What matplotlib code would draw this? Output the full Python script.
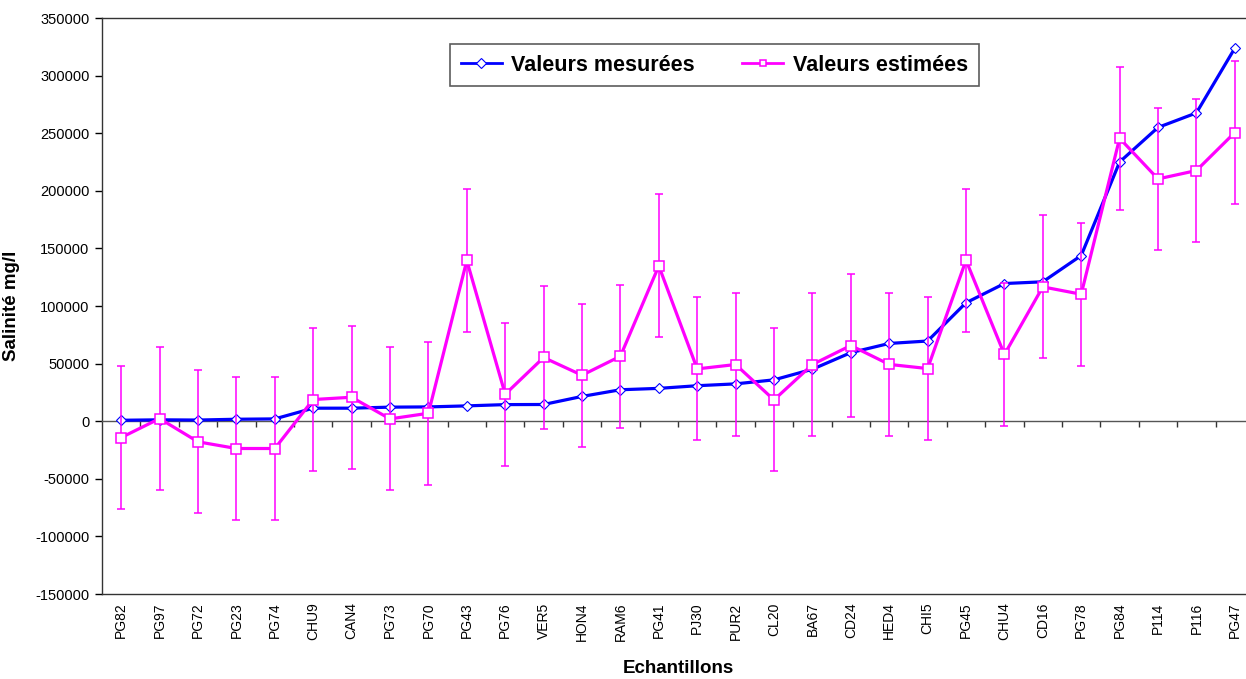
import numpy as np
import matplotlib
matplotlib.use("Agg")
import matplotlib.pyplot as plt

plt.rcParams['font.family'] = ['Liberation Sans', 'DejaVu Sans']
plt.rcParams['axes.unicode_minus'] = False

echantillons = ["PG82", "PG97", "PG72", "PG23", "PG74", "CHU9", "CAN4", "PG73", "PG70", "PG43",
                "PG76", "VER5", "HON4", "RAM6", "PG41", "PJ30", "PUR2", "CL20", "BA67", "CD24",
                "HED4", "CHI5", "PG45", "CHU4", "CD16", "PG78", "PG84", "P114", "P116", "PG47"]

mesurees = [800, 1200, 1000, 1700, 2000, 11300, 11300, 12200, 12400, 13300,
            14400, 14500, 21500, 27300, 28500, 30800, 32400, 35900, 45100, 59500,
            67500, 69600, 102800, 119500, 121000, 143800, 225000, 255000, 267600, 323800]

estimees = [-14200, 2300, -17900, -23700, -23700, 18800, 20800, 2000, 6900, 139500,
            23400, 55300, 39900, 56400, 134800, 45400, 49200, 18500, 49200, 65700,
            49300, 45700, 139700, 57900, 116600, 110200, 245600, 210300, 217600, 250600]

erreur = 62000

yticks = [-150000, -100000, -50000, 0, 50000, 100000, 150000, 200000, 250000, 300000, 350000]

W, H = 1246, 679
fig = plt.figure(figsize=(W / 100, H / 100), dpi=100)
ax = fig.add_axes([102 / W, 1 - 594 / H, 1152 / W, 576 / H])

x = np.arange(len(echantillons))

ax.plot(x, mesurees, color='#0000FF', lw=2.3, marker='D', ms=5.5,
        mfc='white', mec='#0000FF', mew=0.8, label='Valeurs mesurées', zorder=3)
ax.errorbar(x, estimees, yerr=erreur, fmt='none', ecolor='#FF00FF',
            elinewidth=1.1, capsize=3, capthick=1.1, zorder=4)
ax.plot(x, estimees, color='#FF00FF', lw=2.3, marker='s', ms=6.5,
        mfc='white', mec='#FF00FF', mew=1.1, label='Valeurs estimées', zorder=5)

ax.set_xlim(-0.5, len(echantillons) - 0.5)
ax.set_ylim(-150000, 350000)
ax.set_yticks(yticks)
ax.set_yticklabels([str(v) for v in yticks])
ax.tick_params(axis='y', direction='out', length=5, width=1, labelsize=10.5, pad=4,
               colors='black')

for s in ['left', 'top', 'right', 'bottom']:
    ax.spines[s].set_color('#333333')
    ax.spines[s].set_linewidth(1)
ax.spines['bottom'].set_position(('data', 0))
ax.spines['bottom'].set_color('#555555')
ax.set_xticks(np.arange(0.5, len(echantillons) - 1, 1))
ax.set_xticklabels([])
ax.tick_params(axis='x', direction='out', length=4, width=1, color='#333333')

sec = ax.secondary_xaxis('bottom')
sec.set_xticks(x)
sec.set_xticklabels(echantillons, rotation=90, fontsize=10)
sec.tick_params(axis='x', length=0, pad=6)
sec.spines['bottom'].set_color('#333333')
sec.spines['bottom'].set_linewidth(1)
sec.set_xlabel('Echantillons', fontsize=13.5, fontweight='bold', labelpad=14)

ax.set_ylabel('Salinité mg/l', fontsize=13.5, fontweight='bold')
ax.yaxis.set_label_coords(-0.0712, 0.5)

leg = ax.legend(loc='upper left', bbox_to_anchor=(0.302, 0.955), ncol=2,
                frameon=True, fancybox=False, edgecolor='#333333', borderaxespad=0,
                prop={'weight': 'bold', 'size': 15.5}, handlelength=1.9,
                columnspacing=2.2, handletextpad=0.45, borderpad=0.5)
leg.get_frame().set_linewidth(1.2)
for h in leg.legend_handles:
    h.set_linewidth(2.0)
    h.set_markersize(5)

fig.savefig('out.png', dpi=100)
